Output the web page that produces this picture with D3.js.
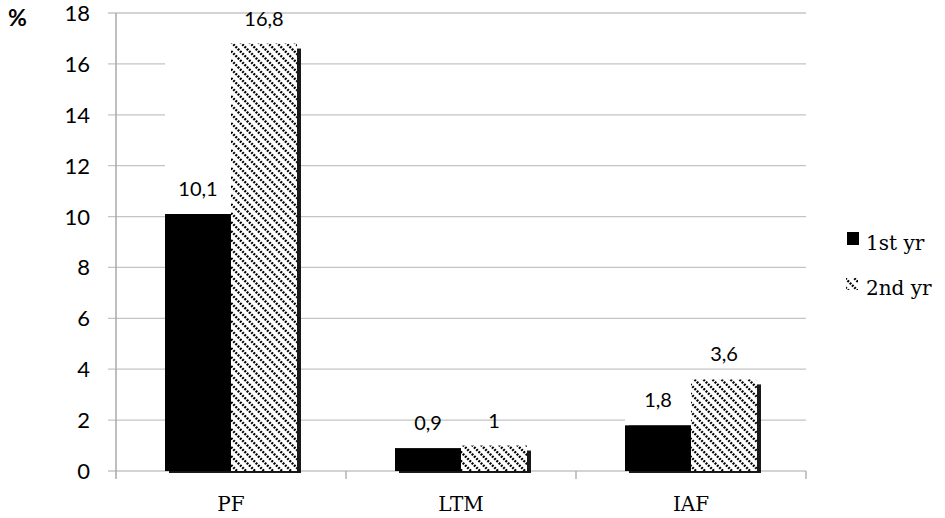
<!DOCTYPE html>
<html>
<head>
<meta charset="utf-8">
<script src="https://cdn.jsdelivr.net/npm/d3@7"></script>
<style>
  body { margin: 0; background: #fff; }
  svg { display: block; }
</style>
</head>
<body>
<div id="chart"></div>
<script>
const categories = ["PF", "LTM", "IAF"];
const seriesNames = ["1st yr", "2nd yr"];
const firstYear = [10.1, 0.9, 1.8];
const secondYear = [16.8, 1, 3.6];
const yTicks = [0, 2, 4, 6, 8, 10, 12, 14, 16, 18];

const width = 945, height = 518;
const plotLeft = 116, plotRight = 806, plotTop = 13, plotBottom = 471;
const barW = 66;

const svg = d3.select("#chart").append("svg")
    .attr("width", width)
    .attr("height", height);

// hatch pattern: dotted "\" diagonals
const defs = svg.append("defs");
const pat = defs.append("pattern")
    .attr("id", "hatch")
    .attr("patternUnits", "userSpaceOnUse")
    .attr("width", 9)
    .attr("height", 9);
pat.append("rect").attr("width", 9).attr("height", 9).attr("fill", "#fff");
pat.append("path")
    .attr("d", "M-3,-3 L12,12 M-3,6 L3,12 M6,-3 L12,3")
    .attr("stroke", "#000")
    .attr("stroke-width", 2.4)
    .attr("stroke-dasharray", "2,1.2");

const x = d3.scaleBand().domain(categories).range([plotLeft, plotRight]);
const y = d3.scaleLinear().domain([0, 18]).range([plotBottom, plotTop]);

// gridlines
svg.append("g")
    .selectAll("line")
    .data(yTicks)
    .enter()
    .append("line")
    .attr("x1", plotLeft - 8)
    .attr("x2", plotRight)
    .attr("y1", d => y(d))
    .attr("y2", d => y(d))
    .style("stroke", "#c4c4c4")
    .style("stroke-width", 1.3);

// y axis line
svg.append("line")
    .attr("x1", plotLeft).attr("x2", plotLeft)
    .attr("y1", plotTop).attr("y2", plotBottom + 8)
    .style("stroke", "#a8a8a8").style("stroke-width", 1.5);

// category tick marks
svg.append("g")
    .selectAll("line")
    .data(categories)
    .enter()
    .append("line")
    .attr("x1", d => x(d) + x.bandwidth())
    .attr("x2", d => x(d) + x.bandwidth())
    .attr("y1", plotBottom)
    .attr("y2", plotBottom + 8)
    .style("stroke", "#a8a8a8").style("stroke-width", 1.3);

// y tick labels
svg.append("g")
    .selectAll("text")
    .data(yTicks)
    .enter()
    .append("text")
    .attr("x", 90)
    .attr("y", d => y(d) + 8)
    .attr("text-anchor", "end")
    .style("font-family", "Lato, 'Open Sans', sans-serif")
    .style("font-size", "22px")
    .style("fill", "#000")
    .text(d => d);

svg.append("text")
    .attr("x", 8).attr("y", 26)
    .style("font-family", "Lato, sans-serif")
    .style("font-weight", "bold")
    .style("font-size", "23px")
    .text("%");

// bars
const groups = categories.map((c, i) => ({ cat: c, a: firstYear[i], b: secondYear[i] }));
const center = d => x(d.cat) + x.bandwidth() / 2;

const g = svg.append("g");

// shadows
g.selectAll(".shadow")
    .data(groups)
    .enter()
    .append("rect")
    .attr("x", d => center(d) - barW + 4)
    .attr("y", d => y(d.b) + 5)
    .attr("width", barW * 2)
    .attr("height", d => plotBottom - y(d.b) - 3)
    .attr("fill", "#000")
    .attr("opacity", 0.9);

g.selectAll(".b1")
    .data(groups)
    .enter()
    .append("rect")
    .attr("x", d => center(d) - barW)
    .attr("y", d => y(d.a))
    .attr("width", barW)
    .attr("height", d => plotBottom - y(d.a))
    .attr("fill", "#000");

// white fill under shadow above first bar
g.selectAll(".mask")
    .data(groups)
    .enter()
    .append("rect")
    .attr("x", d => center(d) - barW)
    .attr("y", d => y(d.b) + 4)
    .attr("width", barW)
    .attr("height", d => Math.max(0, y(d.a) - y(d.b) - 4))
    .attr("fill", "#fff");

g.selectAll(".b2")
    .data(groups)
    .enter()
    .append("rect")
    .attr("x", d => center(d))
    .attr("y", d => y(d.b))
    .attr("width", barW)
    .attr("height", d => plotBottom - y(d.b))
    .attr("fill", "url(#hatch)");

// value labels
const lblFont = "Lato, 'Open Sans', sans-serif";
g.selectAll(".l1")
    .data(groups)
    .enter()
    .append("text")
    .attr("x", d => center(d) - barW / 2)
    .attr("y", d => y(d.a) - 18)
    .attr("text-anchor", "middle")
    .style("font-family", lblFont)
    .style("font-size", "20px")
    .text(d => String(d.a).replace(".", ","));

g.selectAll(".l2")
    .data(groups)
    .enter()
    .append("text")
    .attr("x", d => center(d) + barW / 2)
    .attr("y", d => y(d.b) - 18)
    .attr("text-anchor", "middle")
    .style("font-family", lblFont)
    .style("font-size", "20px")
    .text(d => String(d.b).replace(".", ","));

// category labels
svg.append("g")
    .selectAll("text")
    .data(categories)
    .enter()
    .append("text")
    .attr("x", d => x(d) + x.bandwidth() / 2)
    .attr("y", 511)
    .attr("text-anchor", "middle")
    .style("font-family", "'DejaVu Serif', 'Liberation Serif', serif")
    .style("font-size", "20px")
    .text(d => d);

// legend
const legend = svg.append("g");
legend.append("rect")
    .attr("x", 847).attr("y", 232).attr("width", 12).attr("height", 13)
    .attr("fill", "#000");
legend.append("rect")
    .attr("x", 846).attr("y", 278).attr("width", 12).attr("height", 12)
    .attr("fill", "url(#hatch)");
legend.selectAll("text")
    .data(seriesNames)
    .enter()
    .append("text")
    .attr("x", 866)
    .attr("y", (d, i) => 250 + i * 45)
    .style("font-family", "'DejaVu Serif', 'Liberation Serif', serif")
    .style("font-size", "20px")
    .text(d => d);
</script>
</body>
</html>
